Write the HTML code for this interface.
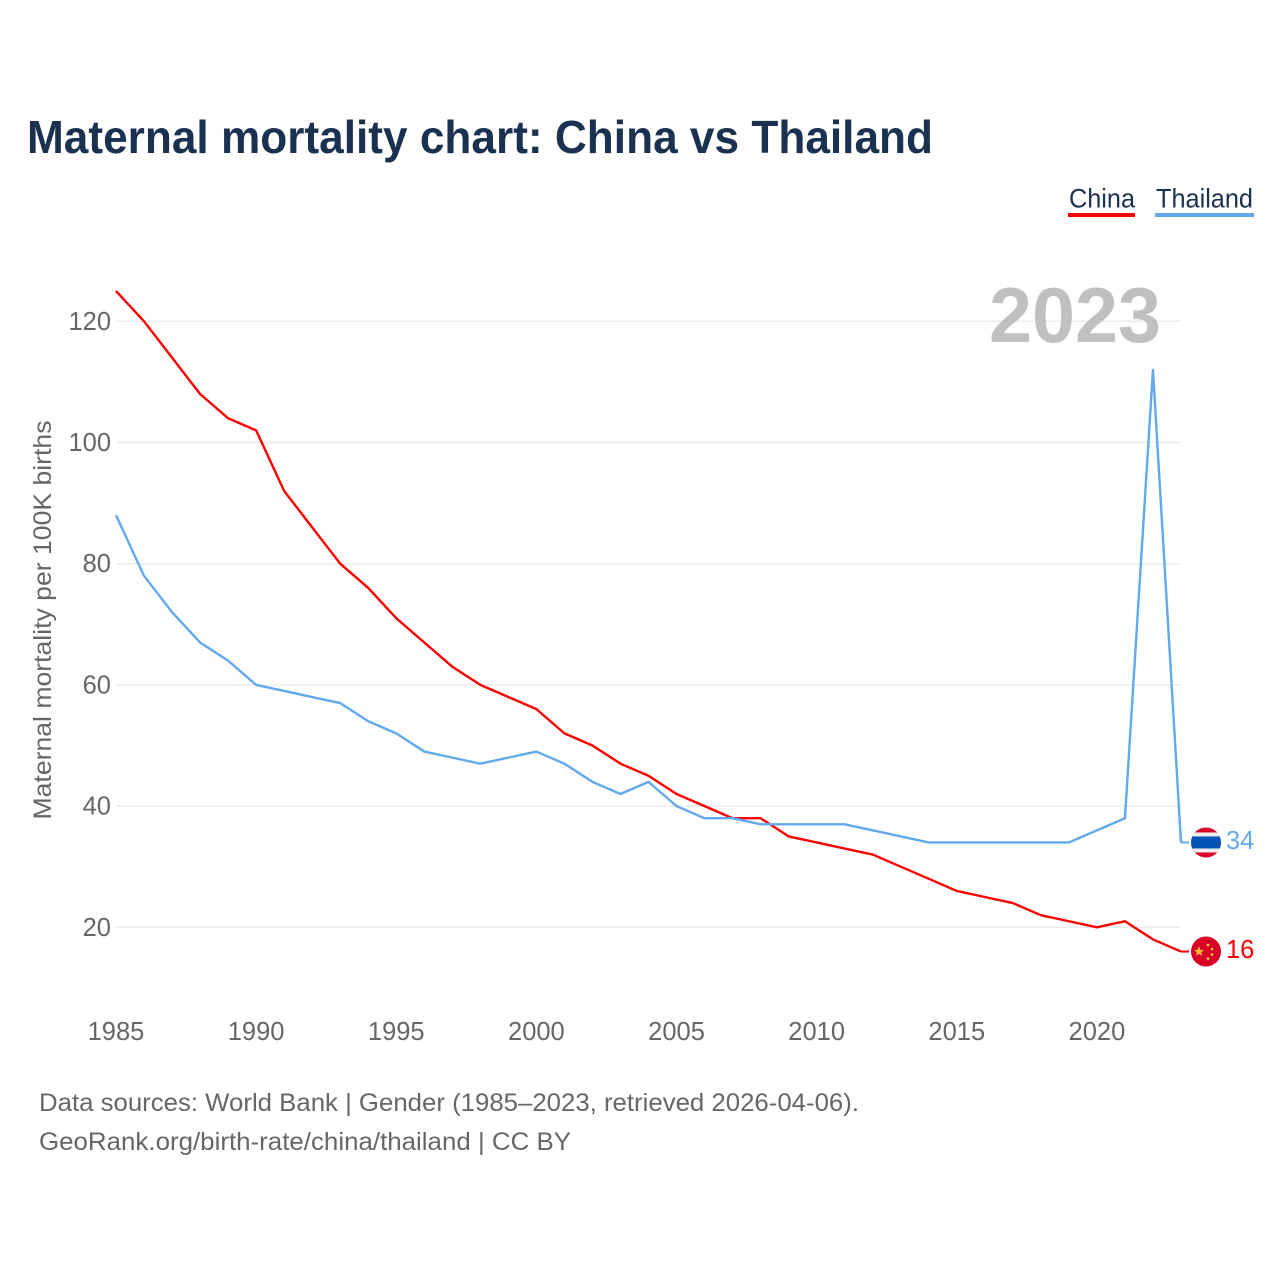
<!DOCTYPE html>
<html lang="en">
<head>
<meta charset="utf-8">
<title>Maternal mortality chart: China vs Thailand</title>
<style>
html,body{margin:0;padding:0;background:#fff;}
svg{display:block;font-family:"Liberation Sans",sans-serif;}
</style>
</head>
<body>
<svg id="chart" xmlns="http://www.w3.org/2000/svg" width="1280" height="1280" viewBox="0 0 1280 1280">
  <rect width="1280" height="1280" fill="#ffffff"/>
  <text x="27" y="153" font-size="46" font-weight="700" fill="#1a3150" textLength="906" lengthAdjust="spacingAndGlyphs">Maternal mortality chart: China vs Thailand</text>

  <g>
    <g>
      <text x="1069" y="207.5" font-size="27" fill="#1a3150" textLength="66" lengthAdjust="spacingAndGlyphs">China</text>
      <rect x="1068" y="213" width="67" height="4" fill="#ff0000"/>
    </g>
    <g>
      <text x="1156" y="207.5" font-size="27" fill="#1a3150" textLength="97" lengthAdjust="spacingAndGlyphs">Thailand</text>
      <rect x="1155" y="213" width="99" height="4" fill="#62a8ee"/>
    </g>
  </g>

  <g id="grid"></g>
  <g id="yticks"></g>
  <g id="xticks"></g>

  <text transform="translate(51 620) rotate(-90)" text-anchor="middle" font-size="25" fill="#666666" textLength="399" lengthAdjust="spacingAndGlyphs">Maternal mortality per 100K births</text>

  <text x="989" y="342" font-size="78" font-weight="700" fill="#c0c0c0" textLength="172" lengthAdjust="spacingAndGlyphs">2023</text>

  <g id="series"></g>

  <defs>
    <clipPath id="clip-th"><circle cx="0" cy="0" r="15"/></clipPath>
    <clipPath id="clip-cn"><circle cx="0" cy="0" r="15"/></clipPath>
  </defs>

  <g id="flag-thailand" clip-path="url(#clip-th)">
    <rect x="-16" y="-16" width="32" height="32" fill="#d80027"/>
    <rect x="-16" y="-10" width="32" height="20" fill="#eeeeee"/>
    <rect x="-16" y="-6" width="32" height="12" fill="#0052b4"/>
  </g>
  <text id="label-thailand" x="1226" font-size="25.5" fill="#62a8ee"></text>

  <g id="flag-china" clip-path="url(#clip-cn)">
    <rect x="-16" y="-16" width="32" height="32" fill="#d80027"/>
    <polygon points="-7,-5.5 -5.6,-1.7 -1.8,-1.7 -4.8,0.7 -3.7,4.5 -7,2.2 -10.3,4.5 -9.2,0.7 -12.2,-1.7 -8.4,-1.7" fill="#ffb93a"/>
    <circle cx="2" cy="-6.5" r="1.3" fill="#ffda44"/>
    <circle cx="6" cy="-2.5" r="1.3" fill="#ffda44"/>
    <circle cx="6" cy="3" r="1.3" fill="#ffda44"/>
    <circle cx="2" cy="7" r="1.3" fill="#ffda44"/>
  </g>
  <text id="label-china" x="1226" font-size="25.5" fill="#ff0000"></text>

  <g>
    <text x="39" y="1111" font-size="25" fill="#666666" textLength="820" lengthAdjust="spacingAndGlyphs">Data sources: World Bank | Gender (1985–2023, retrieved 2026-04-06).</text>
    <text x="39" y="1150" font-size="25" fill="#666666" textLength="532" lengthAdjust="spacingAndGlyphs">GeoRank.org/birth-rate/china/thailand | CC BY</text>
  </g>
</svg>
<script>
const years = [1985,1986,1987,1988,1989,1990,1991,1992,1993,1994,1995,1996,1997,1998,1999,2000,2001,2002,2003,2004,2005,2006,2007,2008,2009,2010,2011,2012,2013,2014,2015,2016,2017,2018,2019,2020,2021,2022,2023];
const chinaValues = [125,120,114,108,104,102,92,86,80,76,71,67,63,60,58,56,52,50,47,45,42,40,38,38,35,34,33,32,30,28,26,25,24,22,21,20,21,18,16];
const thailandValues = [88,78,72,67,64,60,59,58,57,54,52,49,48,47,48,49,47,44,42,44,40,38,38,37,37,37,37,36,35,34,34,34,34,34,34,36,38,112,34];
const yTickValues = [20,40,60,80,100,120];
const xTickValues = [1985,1990,1995,2000,2005,2010,2015,2020];

const NS = 'http://www.w3.org/2000/svg';
function xScale(year) { return 116 + (year - 1985) * (1181 - 116) / 38; }
function yScale(value) { return 927.3 - (value - 20) * (927.3 - 321.3) / 100; }

const gridGroup = document.getElementById('grid');
const yTickGroup = document.getElementById('yticks');
const xTickGroup = document.getElementById('xticks');
const seriesGroup = document.getElementById('series');

yTickValues.forEach(function (v) {
  const line = document.createElementNS(NS, 'line');
  
  
  line.setAttribute('x1', 116);
  line.setAttribute('x2', 1181);
  line.setAttribute('y1', yScale(v));
  line.setAttribute('y2', yScale(v));
  line.setAttribute('stroke', '#ebebeb');
  line.setAttribute('stroke-width', '1.5');
  gridGroup.appendChild(line);

  const label = document.createElementNS(NS, 'text');
  
  
  label.setAttribute('x', 111);
  label.setAttribute('y', yScale(v) + 8.5);
  label.setAttribute('text-anchor', 'end');
  label.setAttribute('font-size', '25.5');
  label.setAttribute('fill', '#666666');
  label.textContent = String(v);
  yTickGroup.appendChild(label);
});

xTickValues.forEach(function (y) {
  const label = document.createElementNS(NS, 'text');
  
  
  label.setAttribute('x', xScale(y));
  label.setAttribute('y', 1040);
  label.setAttribute('text-anchor', 'middle');
  label.setAttribute('font-size', '25.5');
  label.setAttribute('fill', '#666666');
  label.textContent = String(y);
  xTickGroup.appendChild(label);
});

function pointsFor(values) {
  return values.map(function (v, i) {
    return xScale(years[i]).toFixed(2) + ',' + yScale(v).toFixed(2);
  }).join(' ');
}

function drawSeries(values, color, lineName, connectorName) {
  const line = document.createElementNS(NS, 'polyline');
  
  
  line.setAttribute('points', pointsFor(values));
  line.setAttribute('fill', 'none');
  line.setAttribute('stroke', color);
  line.setAttribute('stroke-width', '2.4');
  line.setAttribute('stroke-linejoin', 'round');
  seriesGroup.appendChild(line);

  const endValue = values[values.length - 1];
  const connector = document.createElementNS(NS, 'line');
  
  
  connector.setAttribute('x1', xScale(years[years.length - 1]));
  connector.setAttribute('x2', 1189);
  connector.setAttribute('y1', yScale(endValue));
  connector.setAttribute('y2', yScale(endValue));
  connector.setAttribute('stroke', color);
  connector.setAttribute('stroke-width', '2');
  seriesGroup.appendChild(connector);
}

drawSeries(chinaValues, '#ff0000', 'china-line', 'china-connector');
drawSeries(thailandValues, '#62a8ee', 'thailand-line', 'thailand-connector');

function placeEnd(values, flagId, labelId) {
  const endValue = values[values.length - 1];
  const yPos = yScale(endValue);
  document.getElementById(flagId).setAttribute('transform', 'translate(1206 ' + yPos + ')');
  const label = document.getElementById(labelId);
  label.setAttribute('y', yPos + 6.5);
  label.textContent = String(endValue);
}
placeEnd(thailandValues, 'flag-thailand', 'label-thailand');
placeEnd(chinaValues, 'flag-china', 'label-china');
</script>
</body>
</html>
